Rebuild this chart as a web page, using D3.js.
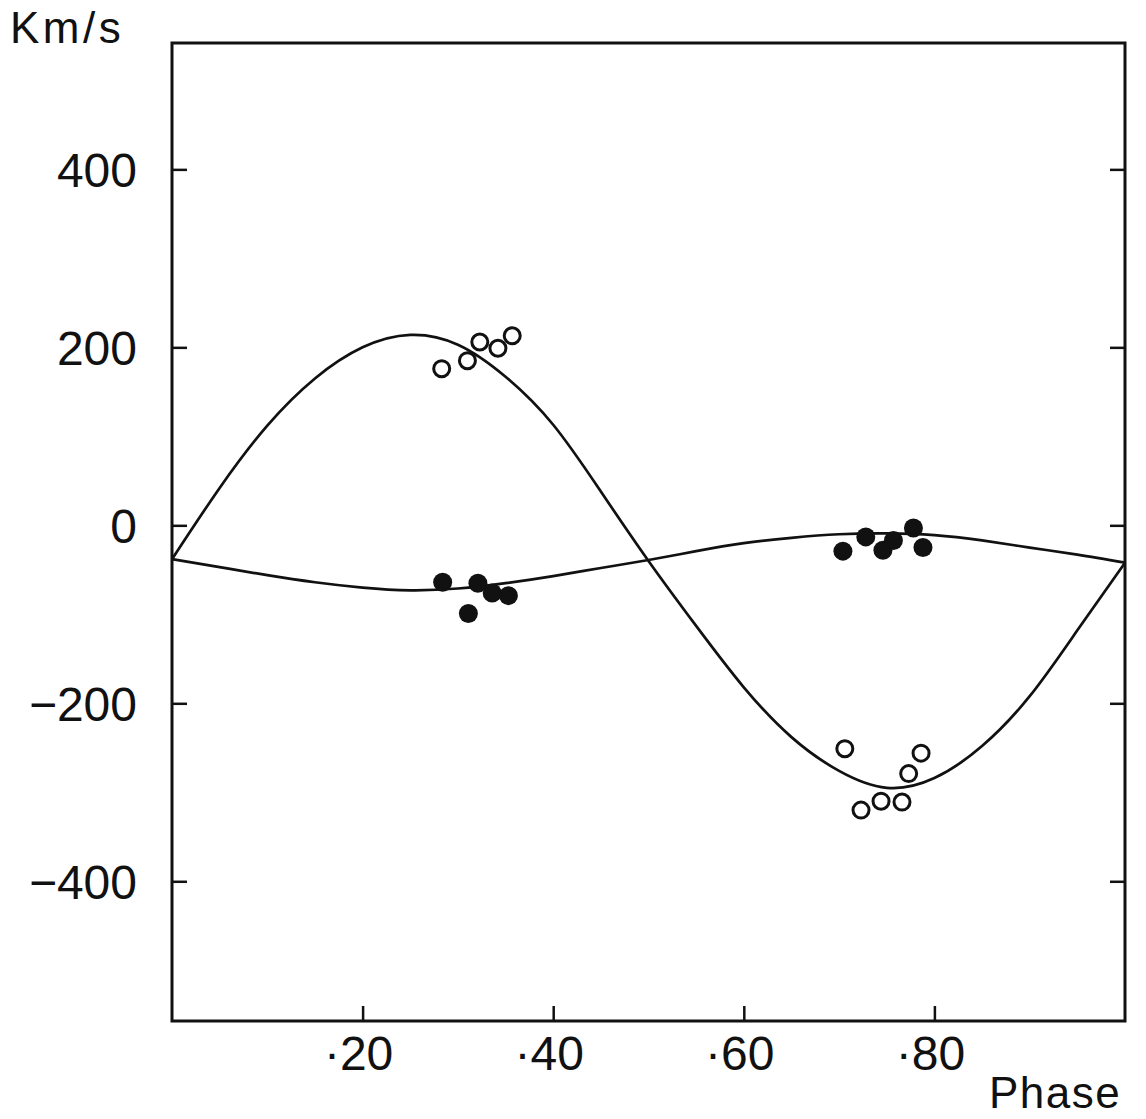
<!DOCTYPE html>
<html>
<head>
<meta charset="utf-8">
<script src="https://cdn.jsdelivr.net/npm/d3@7"></script>
<style>
  html, body { margin: 0; padding: 0; background: #fff; }
  svg { display: block; }
  text { font-family: "Liberation Sans", Arial, sans-serif; fill: #111; }
</style>
</head>
<body>
<svg width="1146" height="1119"></svg>
<script>
// Radial velocity curve

// fitted curves, sampled every 0.05 in phase
const curvePhase = [0, .05, .10, .15, .20, .25, .30, .35, .40, .45, .50,
                    .55, .60, .65, .70, .75, .80, .85, .90, .95, 1.0];
const primaryVel = [-38, 42, 112, 165, 200, 214, 203, 167, 113, 38, -40,
                    -113, -182, -238, -276, -295, -284, -248, -192, -118, -42];
const secondaryVel = [-38, -47, -56, -64, -70, -73, -71, -65, -57, -48, -39,
                      -29, -20, -14, -10, -9, -11, -17, -25, -33, -42];

// observations: open circles (primary) and filled circles (secondary)
const openPhase = [0.283, 0.310, 0.323, 0.342, 0.357, 0.706, 0.723, 0.744, 0.766, 0.773, 0.786];
const openVel   = [176, 185, 206, 199, 213, -251, -320, -310, -311, -279, -256];
const filledPhase = [0.284, 0.311, 0.321, 0.336, 0.353, 0.704, 0.728, 0.746, 0.757, 0.778, 0.788];
const filledVel   = [-64, -99, -65, -76, -79, -29, -13, -28, -17, -3, -25];

const yTicks = [400, 200, 0, -200, -400];
const yTickLabels = ["400", "200", "0", "\u2212200", "\u2212400"];
const xTicks = [0.2, 0.4, 0.6, 0.8];
const xTickLabels = ["\u00b720", "\u00b740", "\u00b760", "\u00b780"];

const svg = d3.select("svg");
const plotLeft = 172, plotRight = 1125, plotTop = 43, plotBottom = 1021;

const x = d3.scaleLinear().domain([0, 1]).range([plotLeft, plotRight]);
const y = d3.scaleLinear().domain([-557, 542]).range([plotBottom, plotTop]);

// frame
svg.append("rect")
    .attr("x", plotLeft).attr("y", plotTop)
    .attr("width", plotRight - plotLeft).attr("height", plotBottom - plotTop)
    .attr("fill", "none").attr("stroke", "#111").attr("stroke-width", 3);

// y ticks, inward on both sides
const tickLen = 15;
svg.append("g")
    .attr("transform", `translate(${plotLeft},0)`)
    .call(d3.axisRight(y).tickValues(yTicks).tickSize(tickLen).tickFormat(""))
    .call(g => g.select(".domain").remove())
    .call(g => g.selectAll("line").attr("stroke", "#111").attr("stroke-width", 2.5));

svg.append("g")
    .attr("transform", `translate(${plotRight},0)`)
    .call(d3.axisLeft(y).tickValues(yTicks).tickSize(tickLen).tickFormat(""))
    .call(g => g.select(".domain").remove())
    .call(g => g.selectAll("line").attr("stroke", "#111").attr("stroke-width", 2.5));

// x ticks, inward
svg.append("g")
    .attr("transform", `translate(0,${plotBottom})`)
    .call(d3.axisTop(x).tickValues(xTicks).tickSize(tickLen).tickFormat(""))
    .call(g => g.select(".domain").remove())
    .call(g => g.selectAll("line").attr("stroke", "#111").attr("stroke-width", 2.5));

// tick labels
svg.append("g").selectAll("text")
    .data(yTicks)
    .join("text")
    .attr("x", 137)
    .attr("y", d => y(d))
    .attr("dy", "0.36em")
    .attr("text-anchor", "end")
    .attr("font-size", 48)
    .text((d, i) => yTickLabels[i]);

svg.append("g").selectAll("text")
    .data(xTicks)
    .join("text")
    .attr("x", d => x(d) - 4)
    .attr("y", 1070)
    .attr("text-anchor", "middle")
    .attr("font-size", 48)
    .text((d, i) => xTickLabels[i]);

// axis titles
svg.append("text")
    .attr("x", 10).attr("y", 43)
    .attr("font-size", 44)
    .attr("letter-spacing", 3.5)
    .text("Km/s");

svg.append("text")
    .attr("x", 989).attr("y", 1108)
    .attr("font-size", 44)
    .attr("letter-spacing", 1.5)
    .text("Phase");

// curves
const line = d3.line()
    .x(d => x(d[0]))
    .y(d => y(d[1]))
    .curve(d3.curveNatural);

[primaryVel, secondaryVel].forEach(vals => {
    svg.append("path")
        .datum(curvePhase.map((p, i) => [p, vals[i]]))
        .attr("d", line)
        .attr("fill", "none")
        .attr("stroke", "#111")
        .attr("stroke-width", 2.7);
});

// observations
svg.append("g").selectAll("circle")
    .data(openPhase.map((p, i) => [p, openVel[i]]))
    .join("circle")
    .attr("cx", d => x(d[0]))
    .attr("cy", d => y(d[1]))
    .attr("r", 8)
    .attr("fill", "#fff")
    .attr("stroke", "#111")
    .attr("stroke-width", 3);

svg.append("g").selectAll("circle")
    .data(filledPhase.map((p, i) => [p, filledVel[i]]))
    .join("circle")
    .attr("cx", d => x(d[0]))
    .attr("cy", d => y(d[1]))
    .attr("r", 9.5)
    .attr("fill", "#111");
</script>
</body>
</html>
